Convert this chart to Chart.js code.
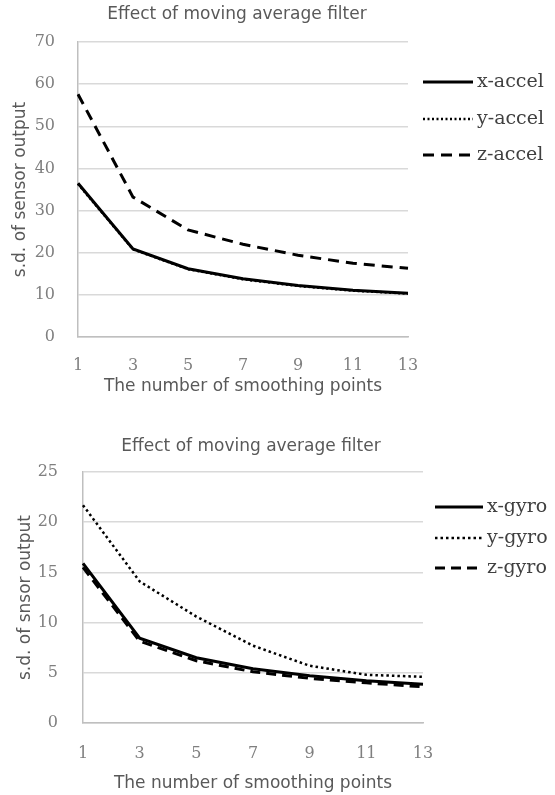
<!DOCTYPE html>
<html>
<head>
<meta charset="utf-8">
<script src="https://cdn.jsdelivr.net/npm/chart.js@4.4.1/dist/chart.umd.min.js"></script>
<style>
html,body{margin:0;padding:0;background:#fff;}
#wrap{position:relative;width:555px;height:795px;}
canvas{position:absolute;left:0;}
#accelChart{top:0;}
#gyroChart{top:405px;}
</style>
</head>
<body>
<div id="wrap">
<canvas id="accelChart" width="555" height="405"></canvas>
<canvas id="gyroChart" width="555" height="390"></canvas>
</div>
<script>
// data
const smoothPoints = ['1','3','5','7','9','11','13'];
const xAccel = [36.5, 20.9, 16.2, 13.8, 12.2, 11.1, 10.4];
const yAccel = [36.3, 20.8, 16.1, 13.7, 12.1, 11.0, 10.3];
const zAccel = [57.6, 33.2, 25.4, 22.0, 19.4, 17.5, 16.3];
const xGyro = [15.9, 8.45, 6.5, 5.4, 4.7, 4.2, 3.85];
const yGyro = [21.7, 14.1, 10.6, 7.7, 5.7, 4.8, 4.6];
const zGyro = [15.5, 8.15, 6.2, 5.1, 4.45, 4.0, 3.6];
const accelTicks = {min:0, max:70, step:10};
const gyroTicks = {min:0, max:25, step:5};

const SANS = '"DejaVu Sans", sans-serif';
const SERIF = '"DejaVu Serif", serif';

// title + legend drawn by hand
const decor = {
  id:'decor',
  afterDraw(chart, args, o){
    const ctx = chart.ctx, a = chart.chartArea;
    ctx.save();
    ctx.fillStyle = '#595959';
    ctx.font = '17px ' + SANS;
    ctx.textAlign = 'center';
    ctx.textBaseline = 'middle';
    ctx.fillText(o.title, (a.left + a.right)/2 + o.titleDx, o.titleY);
    chart.data.datasets.forEach((ds, i)=>{
      const y = o.legendY[i];
      ctx.strokeStyle = ds.borderColor;
      ctx.lineWidth = ds.borderWidth;
      ctx.setLineDash(ds.borderDash || []);
      ctx.beginPath();
      ctx.moveTo(o.legendX, y);
      ctx.lineTo(o.legendX + o.legendW, y);
      ctx.stroke();
      ctx.setLineDash([]);
      ctx.fillStyle = '#404040';
      ctx.font = '19px ' + SERIF;
      ctx.textAlign = 'left';
      ctx.fillText(ds.label, o.legendX + o.legendW + 4, y);
    });
    ctx.restore();
  }
};

function line(label, data, dash, width){
  return {label, data, borderColor:'#000', borderWidth:width, borderDash:dash,
    pointRadius:0, tension:0, fill:false};
}

function makeChart(id, datasets, t, cfg){
  return new Chart(document.getElementById(id), {
    type:'line',
    data:{labels:smoothPoints, datasets},
    options:{
      responsive:false, animation:false,
      layout:{padding:{left:0, right:cfg.right, top:cfg.top, bottom:0}},
      plugins:{legend:{display:false}, tooltip:{enabled:false}, decor:cfg.decor},
      scales:{
        x:{
          grid:{display:false, drawTicks:false},
          border:{display:true, color:'#bfbfbf', width:1.5},
          ticks:{color:'#7f7f7f', font:{family:SERIF, size:16}, padding:cfg.xPad, maxRotation:0},
          title:{display:true, text:'The number of smoothing points', color:'#595959',
            font:{family:SANS, size:17}, padding:{top:0, bottom:cfg.xTitlePad}},
          afterFit(s){ s.height = cfg.xH; }
        },
        y:{
          min:t.min, max:t.max,
          grid:{color:'#d9d9d9', lineWidth:1.5, drawTicks:false},
          border:{display:true, color:'#bfbfbf', width:1.5},
          ticks:{stepSize:t.step, color:'#7f7f7f', font:{family:SERIF, size:16}, padding:cfg.yPad},
          title:{display:true, text:cfg.yTitle, color:'#595959',
            font:{family:SANS, size:17}, padding:{top:cfg.yTitlePad, bottom:0}},
          afterFit(s){ s.width = cfg.yW; }
        }
      }
    },
    plugins:[decor]
  });
}

makeChart('accelChart', [
  line('x-accel', xAccel, [], 3),
  line('y-accel', yAccel, [2, 2.5], 2.5),
  line('z-accel', zAccel, [11, 7], 3)
], accelTicks, {
  right:147, top:42, xH:68, yW:78, xPad:19, yPad:23, xTitlePad:8, yTitlePad:10,
  yTitle:'s.d. of sensor output',
  decor:{title:'Effect of moving average filter', titleDx:-6, titleY:15,
    legendX:423, legendW:50, legendY:[82, 119, 155]}
});

makeChart('gyroChart', [
  line('x-gyro', xGyro, [], 3),
  line('y-gyro', yGyro, [2.5, 3], 2.5),
  line('z-gyro', zGyro, [10, 6], 3)
], gyroTicks, {
  right:132, top:67, xH:72, yW:83, xPad:21, yPad:25, xTitlePad:1, yTitlePad:15,
  yTitle:'s.d. of snsor output',
  decor:{title:'Effect of moving average filter', titleDx:-2, titleY:42,
    legendX:435, legendW:48, legendY:[102, 133, 163]}
});
</script>
</body>
</html>
